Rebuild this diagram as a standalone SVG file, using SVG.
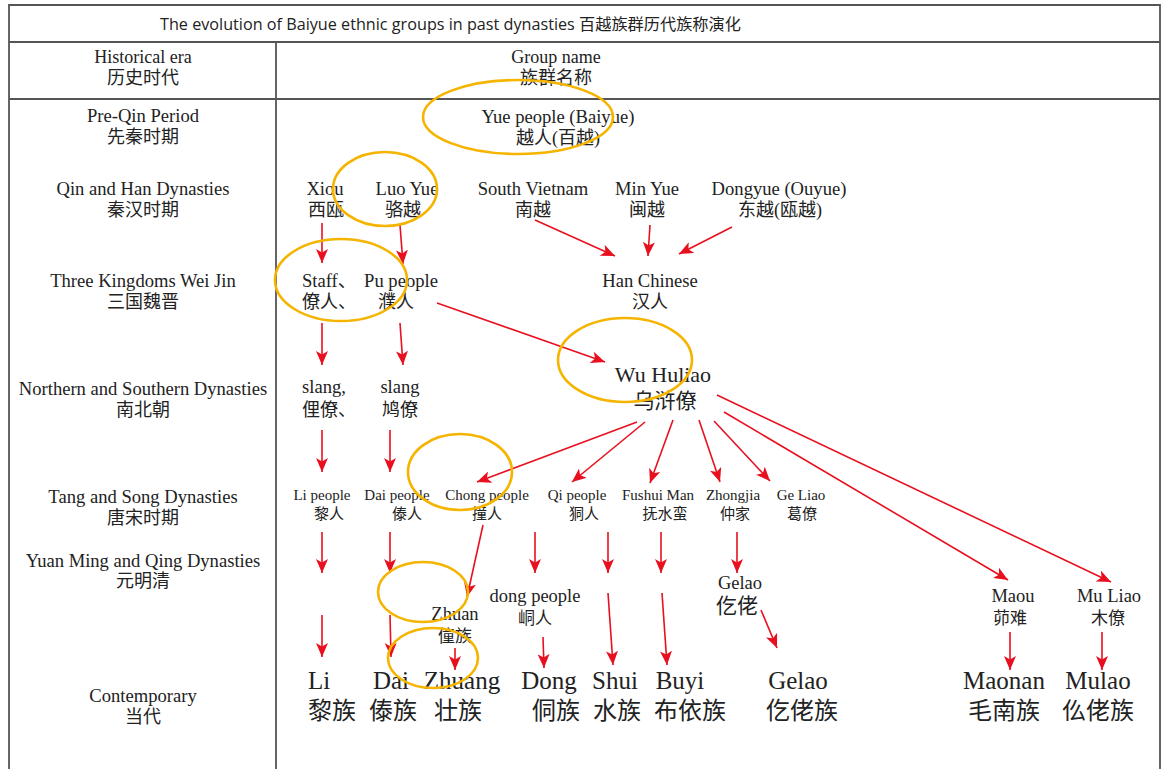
<svg xmlns="http://www.w3.org/2000/svg" width="1168" height="769" viewBox="0 0 1168 769">
<style>
text{font-family:"Liberation Serif","Noto Sans CJK SC",serif;fill:#222;text-anchor:middle}
.t{font-family:"Open Sans","Noto Sans CJK SC",sans-serif;font-size:16.2px;text-anchor:start}
.h{font-size:18px}
.hc{font-size:18px}
.n{font-size:18.6px}
.nc{font-size:18px}
.s{font-size:15px}
.sc{font-size:15px}
.m{font-size:18.5px}
.mc{font-size:17px}
.w{font-size:22px}
.wc{font-size:21px}
.b{font-size:25px}
.bc{font-size:24px}
.grid{stroke:#555;stroke-width:1.8;fill:none}
.ar{stroke:#e8101f;stroke-width:1.6;fill:none;marker-end:url(#ah)}
.ring{stroke:#f5b400;stroke-width:2.6;fill:none}
</style>
<defs>
<marker id="ah" viewBox="0 0 14 12" refX="14" refY="6" markerWidth="14" markerHeight="12" markerUnits="userSpaceOnUse" orient="auto">
<path d="M0,0 L14,6 L0,12 L3.5,6 z" fill="#e8101f"/>
</marker>
</defs>
<rect width="1168" height="769" fill="#fff"/>
<g id="table">
<path class="grid" d="M9,775 V5 H1160 V775 M9,42 H1160 M9,99 H1160 M276,42 V775"/>
<text class="t" x="160" y="30">The evolution of Baiyue ethnic groups in past dynasties 百越族群历代族称演化</text>
</g>
<g id="header">
<text class="h" x="143" y="63">Historical era</text>
<text class="hc" x="143" y="84">历史时代</text>
<text class="h" x="556" y="63">Group name</text>
<text class="hc" x="556" y="84">族群名称</text>
</g>
<g id="eras">
<text class="n" x="143" y="122">Pre-Qin Period</text>
<text class="nc" x="143" y="143">先秦时期</text>
<text class="n" x="143" y="195">Qin and Han Dynasties</text>
<text class="nc" x="143" y="216">秦汉时期</text>
<text class="n" x="143" y="287">Three Kingdoms Wei Jin</text>
<text class="nc" x="143" y="308">三国魏晋</text>
<text class="n" x="143" y="395">Northern and Southern Dynasties</text>
<text class="nc" x="143" y="416">南北朝</text>
<text class="n" x="143" y="503">Tang and Song Dynasties</text>
<text class="nc" x="143" y="524">唐宋时期</text>
<text class="n" x="143" y="567">Yuan Ming and Qing Dynasties</text>
<text class="nc" x="143" y="587">元明清</text>
<text class="n" x="143" y="702">Contemporary</text>
<text class="nc" x="143" y="723">当代</text>
</g>
<g id="yue"><text class="n" x="558" y="123">Yue people (Baiyue)</text><text class="nc" x="558" y="144">越人(百越)</text></g>
<g id="xiou"><text class="n" x="325" y="195">Xiou</text><text class="nc" x="326" y="216">西瓯</text></g>
<g id="luoyue"><text class="n" x="407" y="195">Luo Yue</text><text class="nc" x="403" y="216">骆越</text></g>
<g id="nanyue"><text class="n" x="533" y="195">South Vietnam</text><text class="nc" x="533" y="216">南越</text></g>
<g id="minyue"><text class="n" x="647" y="195">Min Yue</text><text class="nc" x="647" y="216">闽越</text></g>
<g id="dongyue"><text class="n" x="779" y="195">Dongyue (Ouyue)</text><text class="nc" x="780" y="216">东越(瓯越)</text></g>
<g id="liaoren"><text class="n" x="302" y="287" style="text-anchor:start">Staff、</text><text class="nc" x="302" y="308" style="text-anchor:start">僚人、</text></g>
<g id="puren"><text class="n" x="401" y="287">Pu people</text><text class="nc" x="396" y="308">濮人</text></g>
<g id="han"><text class="n" x="650" y="287">Han Chinese</text><text class="nc" x="650" y="308">汉人</text></g>
<g id="liliao"><text class="n" x="302" y="393" style="text-anchor:start">slang,</text><text class="nc" x="302" y="416" style="text-anchor:start">俚僚、</text></g>
<g id="jiuliao"><text class="n" x="400" y="393">slang</text><text class="nc" x="400" y="416">鸠僚</text></g>
<g id="wuhuliao"><text class="w" x="663" y="382">Wu Huliao</text><text class="wc" x="665" y="408">乌浒僚</text></g>
<g id="liren"><text class="s" x="322" y="500">Li people</text><text class="sc" x="329" y="519">黎人</text></g>
<g id="dairen"><text class="s" x="397" y="500">Dai people</text><text class="sc" x="407" y="519">傣人</text></g>
<g id="zhuangren"><text class="s" x="487" y="500">Chong people</text><text class="sc" x="487" y="519">撞人</text></g>
<g id="qiren"><text class="s" x="577" y="500">Qi people</text><text class="sc" x="584" y="519">狪人</text></g>
<g id="fushui"><text class="s" x="658" y="500">Fushui Man</text><text class="sc" x="665" y="519">抚水蛮</text></g>
<g id="zhongjia"><text class="s" x="733" y="500">Zhongjia</text><text class="sc" x="735" y="519">仲家</text></g>
<g id="geliao"><text class="s" x="801" y="500">Ge Liao</text><text class="sc" x="802" y="519">葛僚</text></g>
<g id="zhuan"><text class="m" x="455" y="620">Zhuan</text><text class="mc" x="455" y="642">僮族</text></g>
<g id="dongren"><text class="m" x="535" y="602">dong people</text><text class="mc" x="535" y="624">峒人</text></g>
<g id="gelao1"><text class="m" x="740" y="589">Gelao</text><text class="wc" x="737" y="613">仡佬</text></g>
<g id="maou"><text class="m" x="1013" y="602">Maou</text><text class="mc" x="1010" y="624">茆难</text></g>
<g id="muliao"><text class="m" x="1109" y="602">Mu Liao</text><text class="mc" x="1108" y="624">木僚</text></g>
<g id="li"><text class="b" x="308" y="689" style="text-anchor:start">Li</text><text class="bc" x="308" y="719" style="text-anchor:start">黎族</text></g>
<g id="dai"><text class="b" x="391" y="689">Dai</text><text class="bc" x="393" y="719">傣族</text></g>
<g id="zhuang"><text class="b" x="462" y="689">Zhuang</text><text class="bc" x="458" y="719">壮族</text></g>
<g id="dong"><text class="b" x="549" y="689">Dong</text><text class="bc" x="556" y="719">侗族</text></g>
<g id="shui"><text class="b" x="615" y="689">Shui</text><text class="bc" x="617" y="719">水族</text></g>
<g id="buyi"><text class="b" x="680" y="689">Buyi</text><text class="bc" x="690" y="719">布依族</text></g>
<g id="gelao"><text class="b" x="798" y="689">Gelao</text><text class="bc" x="802" y="719">仡佬族</text></g>
<g id="maonan"><text class="b" x="1004" y="689">Maonan</text><text class="bc" x="1004" y="719">毛南族</text></g>
<g id="mulao"><text class="b" x="1098" y="689">Mulao</text><text class="bc" x="1098" y="719">仫佬族</text></g>
<g id="connectors">
<line class="ar" x1="322" y1="223" x2="322" y2="263"/>
<line class="ar" x1="400" y1="225" x2="403" y2="264"/>
<line class="ar" x1="535" y1="220" x2="615" y2="256"/>
<line class="ar" x1="650" y1="225" x2="648" y2="256"/>
<line class="ar" x1="732" y1="227" x2="679" y2="254"/>
<line class="ar" x1="322" y1="323" x2="322" y2="365"/>
<line class="ar" x1="400" y1="323" x2="403" y2="365"/>
<line class="ar" x1="437" y1="303" x2="605" y2="362"/>
<line class="ar" x1="322" y1="430" x2="322" y2="472"/>
<line class="ar" x1="390" y1="430" x2="390" y2="472"/>
<line class="ar" x1="637" y1="422" x2="477" y2="482"/>
<line class="ar" x1="645" y1="422" x2="572" y2="482"/>
<line class="ar" x1="673" y1="420" x2="650" y2="483"/>
<line class="ar" x1="699" y1="420" x2="720" y2="482"/>
<line class="ar" x1="714" y1="421" x2="770" y2="481"/>
<line class="ar" x1="724" y1="412" x2="1008" y2="580"/>
<line class="ar" x1="717" y1="395" x2="1111" y2="582"/>
<line class="ar" x1="322" y1="532" x2="322" y2="573"/>
<line class="ar" x1="390" y1="532" x2="390" y2="573"/>
<line class="ar" x1="483" y1="525" x2="467" y2="597"/>
<line class="ar" x1="535" y1="532" x2="535" y2="573"/>
<line class="ar" x1="608" y1="532" x2="608" y2="573"/>
<line class="ar" x1="661" y1="532" x2="661" y2="573"/>
<line class="ar" x1="737" y1="532" x2="737" y2="573"/>
<line class="ar" x1="322" y1="615" x2="322" y2="657"/>
<line class="ar" x1="390" y1="615" x2="391" y2="657"/>
<line class="ar" x1="455" y1="648" x2="455" y2="670"/>
<line class="ar" x1="543" y1="637" x2="544" y2="668"/>
<line class="ar" x1="608" y1="593" x2="613" y2="665"/>
<line class="ar" x1="662" y1="593" x2="667" y2="665"/>
<line class="ar" x1="761" y1="610" x2="777" y2="648"/>
<line class="ar" x1="1010" y1="632" x2="1010" y2="670"/>
<line class="ar" x1="1102" y1="632" x2="1102" y2="670"/>
</g>
<g id="highlights">
<ellipse class="ring" cx="518" cy="117" rx="95" ry="37"/>
<ellipse class="ring" cx="385" cy="189" rx="52" ry="37"/>
<ellipse class="ring" cx="341" cy="280" rx="66" ry="41"/>
<ellipse class="ring" cx="625" cy="360" rx="67" ry="42"/>
<ellipse class="ring" cx="460" cy="472" rx="52" ry="38"/>
<ellipse class="ring" cx="423" cy="592" rx="45" ry="30"/>
<ellipse class="ring" cx="433" cy="658" rx="45" ry="30"/>
</g>
</svg>
